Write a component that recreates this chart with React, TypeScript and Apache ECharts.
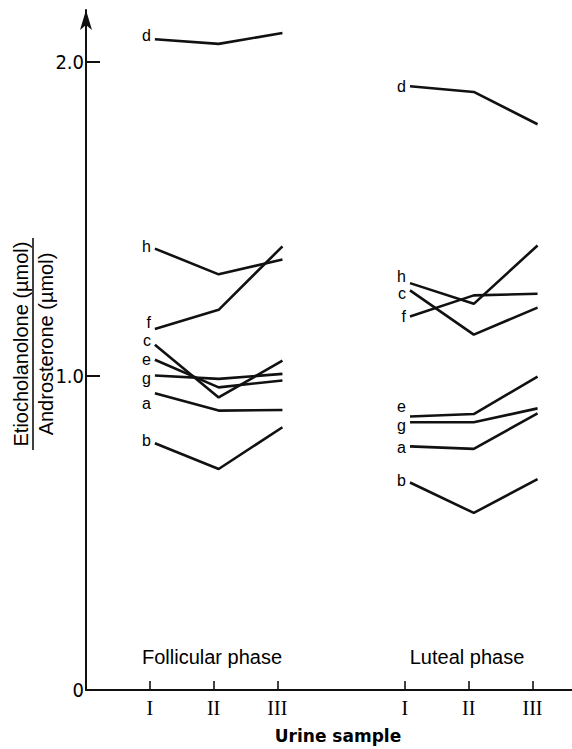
import React, { useEffect, useRef } from "react";
import * as echarts from "echarts";

// Urine sample labels and their positions on the x scale
const SAMPLE_LABELS = ["I", "II", "III"];
const FOLLICULAR_X = [1, 2, 3];
const LUTEAL_X = [5, 6, 7];
const SUBJECTS = ["a", "b", "c", "d", "e", "f", "g", "h"];

// Etiocholanolone / Androsterone ratio per subject, samples I, II, III
const follicular: Record<string, number[]> = {
  a: [0.945, 0.89, 0.892],
  b: [0.786, 0.704, 0.837],
  c: [1.1, 0.932, 1.049],
  d: [2.073, 2.058, 2.093],
  e: [1.052, 0.964, 0.986],
  f: [1.15, 1.211, 1.413],
  g: [1.002, 0.991, 1.007],
  h: [1.406, 1.324, 1.371],
};
const luteal: Record<string, number[]> = {
  a: [0.776, 0.768, 0.881],
  b: [0.661, 0.564, 0.672],
  c: [1.273, 1.132, 1.218],
  d: [1.923, 1.905, 1.802],
  e: [0.871, 0.879, 0.998],
  f: [1.19, 1.257, 1.262],
  g: [0.853, 0.853, 0.897],
  h: [1.296, 1.23, 1.416],
};

const Y_TICKS = [0, 1, 2];

// label vertical nudges (style only)
const FOL_LABEL_DY: Record<string, number> = { a: 10, b: -3, c: -4, d: -4, e: 0, f: -6, g: 3, h: -2 };
const LUT_LABEL_DY: Record<string, number> = { a: 1, b: -2, c: 3, d: 0, e: -10, f: 0, g: 3, h: -7 };

const SANS = "'Liberation Sans', Arial, sans-serif";

export default function App() {
  const ref = useRef<HTMLDivElement>(null);
  useEffect(() => {
    if (!ref.current) return;
    const chart = echarts.init(ref.current, null, { renderer: "svg" });

    const makeSeries = (letter: string, xs: number[], ys: number[], dy: number) => ({
      type: "line",
      xAxisIndex: 1,
      yAxisIndex: 0,
      name: letter,
      symbol: "circle",
      symbolSize: 0.01,
      showSymbol: true,
      itemStyle: { color: "#111" },
      lineStyle: { color: "#111", width: 2.6 },
      label: { show: false },
      data: xs.map((x, i) =>
        i === 0
          ? {
              value: [x, ys[i]],
              label: {
                show: true,
                position: "left",
                distance: 4,
                offset: [0, dy],
                formatter: letter,
                color: "#000",
                fontSize: 16,
                lineHeight: 12,
                fontFamily: SANS,
              },
            }
          : { value: [x, ys[i]] }
      ),
      silent: true,
    });

    const series: any[] = [];
    SUBJECTS.forEach((s) => {
      series.push(makeSeries(s, FOLLICULAR_X, follicular[s], FOL_LABEL_DY[s]));
      series.push(makeSeries(s, LUTEAL_X, luteal[s], LUT_LABEL_DY[s]));
    });

    const tickPositions = [...FOLLICULAR_X, ...LUTEAL_X];
    const roman = (v: number) => {
      const i = FOLLICULAR_X.indexOf(v);
      if (i >= 0) return SAMPLE_LABELS[i];
      const j = LUTEAL_X.indexOf(v);
      return j >= 0 ? SAMPLE_LABELS[j] : "";
    };

    chart.setOption({
      animation: false,
      backgroundColor: "#fff",
      grid: { left: 86, right: 0, top: 10, bottom: 59, containLabel: false },
      xAxis: [
        {
          type: "value",
          min: 0,
          max: 7.62,
          position: "bottom",
          axisLine: { show: true, lineStyle: { color: "#111", width: 2 } },
          axisTick: {
            show: true,
            inside: true,
            length: 9,
            customValues: tickPositions,
            lineStyle: { color: "#111", width: 1.6 },
          },
          axisLabel: {
            show: true,
            customValues: tickPositions,
            formatter: (v: number) => roman(v),
            color: "#000",
            fontFamily: "'Liberation Serif', 'Times New Roman', serif",
            fontSize: 20,
            margin: 8,
          },
          splitLine: { show: false },
        },
        {
          type: "value",
          min: -0.08,
          max: 7.54,
          show: false,
          splitLine: { show: false },
        },
      ],
      yAxis: [
        {
          type: "value",
          min: 0,
          max: 2.166,
          axisLine: {
            show: true,
            symbol: ["none", "arrow"],
            symbolSize: [9, 20],
            lineStyle: { color: "#111", width: 2 },
          },
          axisTick: {
            show: true,
            inside: true,
            length: 14,
            customValues: [1, 2],
            lineStyle: { color: "#111", width: 2 },
          },
          axisLabel: {
            show: true,
            customValues: Y_TICKS,
            formatter: (v: number) => (v === 0 ? "0" : v.toFixed(1)),
            color: "#000",
            fontFamily: "'Liberation Sans Narrow', 'DejaVu Sans Condensed', sans-serif",
            fontSize: 20,
            margin: 2,
          },
          splitLine: { show: false },
        },
      ],
      graphic: [
        {
          type: "group",
          x: 30,
          y: 344,
          rotation: Math.PI / 2,
          children: [
            {
              type: "text",
              x: 0,
              y: -9,
              style: {
                text: "Etiocholanolone (µmol)",
                fontFamily: SANS,
                fontSize: 20,
                fill: "#000",
                align: "center",
                verticalAlign: "middle",
              },
            },
            {
              type: "line",
              shape: { x1: -106, y1: 3, x2: 106, y2: 3 },
              style: { stroke: "#111", lineWidth: 1.6 },
            },
            {
              type: "text",
              x: 0,
              y: 16,
              style: {
                text: "Androsterone (µmol)",
                fontFamily: SANS,
                fontSize: 20,
                fill: "#000",
                align: "center",
                verticalAlign: "middle",
              },
            },
          ],
        },
        {
          type: "text",
          x: 212,
          y: 657,
          style: {
            text: "Follicular phase",
            fontFamily: SANS,
            fontSize: 20,
            fill: "#000",
            align: "center",
            verticalAlign: "middle",
          },
        },
        {
          type: "text",
          x: 467,
          y: 657,
          style: {
            text: "Luteal phase",
            fontFamily: SANS,
            fontSize: 20,
            fill: "#000",
            align: "center",
            verticalAlign: "middle",
          },
        },
        {
          type: "text",
          x: 338,
          y: 736,
          style: {
            text: "Urine sample",
            fontFamily: "'DejaVu Sans', sans-serif",
            fontWeight: "bold",
            fontSize: 17,
            fill: "#000",
            align: "center",
            verticalAlign: "middle",
          },
        },
      ],
      series,
    });

    return () => chart.dispose();
  }, []);

  return <div ref={ref} style={{ width: 572, height: 749, position: "absolute", left: 0, top: 0 }} />;
}
